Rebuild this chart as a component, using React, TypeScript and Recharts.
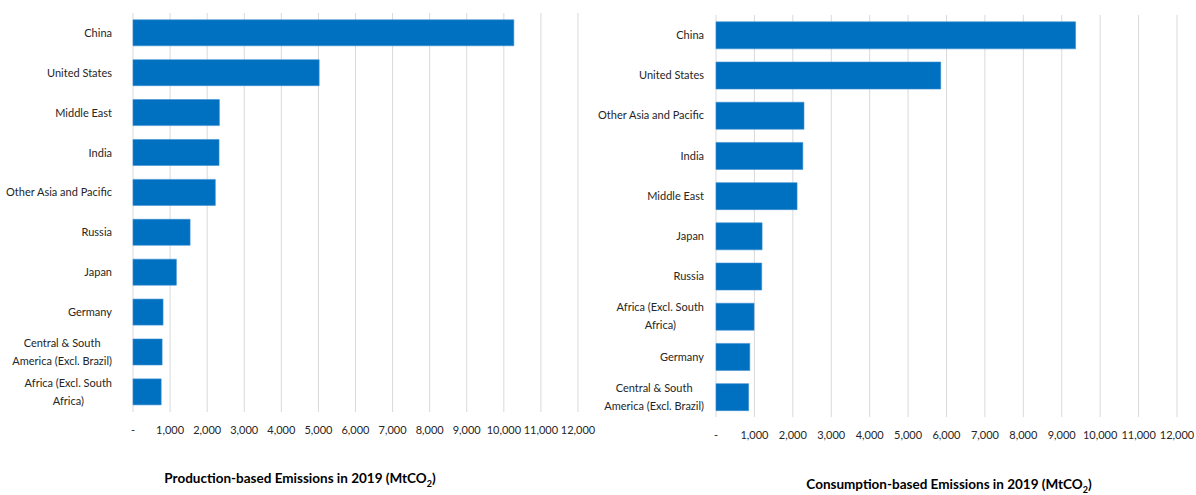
import React from "react";
import { BarChart, Bar, XAxis, YAxis, CartesianGrid } from "recharts";

const prodRegions = [
  "China",
  "United States",
  "Middle East",
  "India",
  "Other Asia and Pacific",
  "Russia",
  "Japan",
  "Germany",
  "Central & South\nAmerica (Excl. Brazil)",
  "Africa (Excl. South\nAfrica)",
];
const prodValues = [10270, 5020, 2330, 2320, 2220, 1540, 1170, 810, 785, 760];

const consRegions = [
  "China",
  "United States",
  "Other Asia and Pacific",
  "India",
  "Middle East",
  "Japan",
  "Russia",
  "Africa (Excl. South\nAfrica)",
  "Germany",
  "Central & South\nAmerica (Excl. Brazil)",
];
const consValues = [9360, 5850, 2290, 2260, 2110, 1200, 1190, 990, 880, 850];

const xTicks = [0, 1000, 2000, 3000, 4000, 5000, 6000, 7000, 8000, 9000, 10000, 11000, 12000];

const FONT = 'Lato, "Noto Sans", sans-serif';
const LABEL_SIZE = 11;
const BLUE = "#0070C0";

let ctx: CanvasRenderingContext2D | null = null;
const measure = (s: string) => {
  if (!ctx) {
    const c = document.createElement("canvas");
    ctx = c.getContext("2d");
  }
  if (!ctx) return s.length * 5.2;
  ctx.font = `${LABEL_SIZE}px ${FONT}`;
  return ctx.measureText(s).width;
};

const CategoryTick = (props: any) => {
  const { x, y, payload } = props;
  const lines: string[] = String(payload.value).split("\n");
  if (lines.length === 1) {
    return (
      <text x={x} y={y} dy="0.35em" textAnchor="end" fontSize={LABEL_SIZE} fontFamily={FONT} fill="#262626">
        {lines[0]}
      </text>
    );
  }
  const w = Math.max(...lines.map(measure));
  const cx = x - w / 2;
  const lh = 18;
  const y0 = y - ((lines.length - 1) * lh) / 2;
  return (
    <text x={cx} y={y0} textAnchor="middle" fontSize={LABEL_SIZE} fontFamily={FONT} fill="#262626">
      {lines.map((l, i) => (
        <tspan key={i} x={cx} y={y0 + i * lh} dy="0.35em">
          {l}
        </tspan>
      ))}
    </text>
  );
};

const fmt = (v: number) => (v === 0 ? "-" : v.toLocaleString("en-US"));

type PanelProps = {
  regions: string[];
  values: number[];
  left: number;
  width: number;
  top: number;
  bottom: number;
  yAxisWidth: number;
  rightMargin: number;
  labelGap: number;
};

const Panel = ({ regions, values, left, width, top, bottom, yAxisWidth, rightMargin, labelGap }: PanelProps) => {
  const data = regions.map((r, i) => ({ region: r, value: values[i] }));
  const H = 495;
  return (
    <div style={{ position: "absolute", left, top: 0 }}>
      <BarChart
        width={width}
        height={H}
        data={data}
        layout="vertical"
        margin={{ top, right: rightMargin, left: 0, bottom: 0 }}
        barCategoryGap="17%"
      >
        <CartesianGrid horizontal={false} vertical={true} stroke="#d9d9d9" strokeWidth={1} />
        <XAxis
          type="number"
          domain={[0, 12000]}
          ticks={xTicks}
          tickFormatter={fmt}
          axisLine={false}
          tickLine={false}
          tickSize={0}
          tickMargin={14}
          height={H - bottom}
          interval={0}
          tick={{ fontSize: LABEL_SIZE, fontFamily: FONT, fill: "#262626" }}
        />
        <YAxis
          type="category"
          dataKey="region"
          width={yAxisWidth}
          axisLine={false}
          tickLine={false}
          tickSize={0}
          tickMargin={labelGap}
          interval={0}
          tick={<CategoryTick />}
        />
        <Bar dataKey="value" fill={BLUE} stroke="#3d8fd4" strokeWidth={0.6} isAnimationActive={false} />
      </BarChart>
    </div>
  );
};

const titleStyle: React.CSSProperties = {
  position: "absolute",
  fontFamily: FONT,
  fontWeight: "bold",
  fontSize: 13.5,
  color: "#000",
  whiteSpace: "nowrap",
  textAlign: "center",
  width: 400,
  lineHeight: "16px",
};

export default function App() {
  return (
    <div style={{ position: "absolute", left: 0, top: 0, width: 1196, height: 495, background: "#fff", overflow: "hidden" }}>
      <Panel
        regions={prodRegions}
        values={prodValues}
        left={0}
        width={598}
        top={13}
        bottom={412}
        yAxisWidth={133}
        rightMargin={20}
        labelGap={21}
      />
      <Panel
        regions={consRegions}
        values={consValues}
        left={598}
        width={598}
        top={15}
        bottom={417}
        yAxisWidth={118}
        rightMargin={19}
        labelGap={12}
      />
      <div style={{ ...titleStyle, left: 100, top: 470 }}>
        Production-based Emissions in 2019 (MtCO<sub style={{ fontSize: 9 }}>2</sub>)
      </div>
      <div style={{ ...titleStyle, left: 749, top: 476 }}>
        Consumption-based Emissions in 2019 (MtCO<sub style={{ fontSize: 9 }}>2</sub>)
      </div>
    </div>
  );
}
